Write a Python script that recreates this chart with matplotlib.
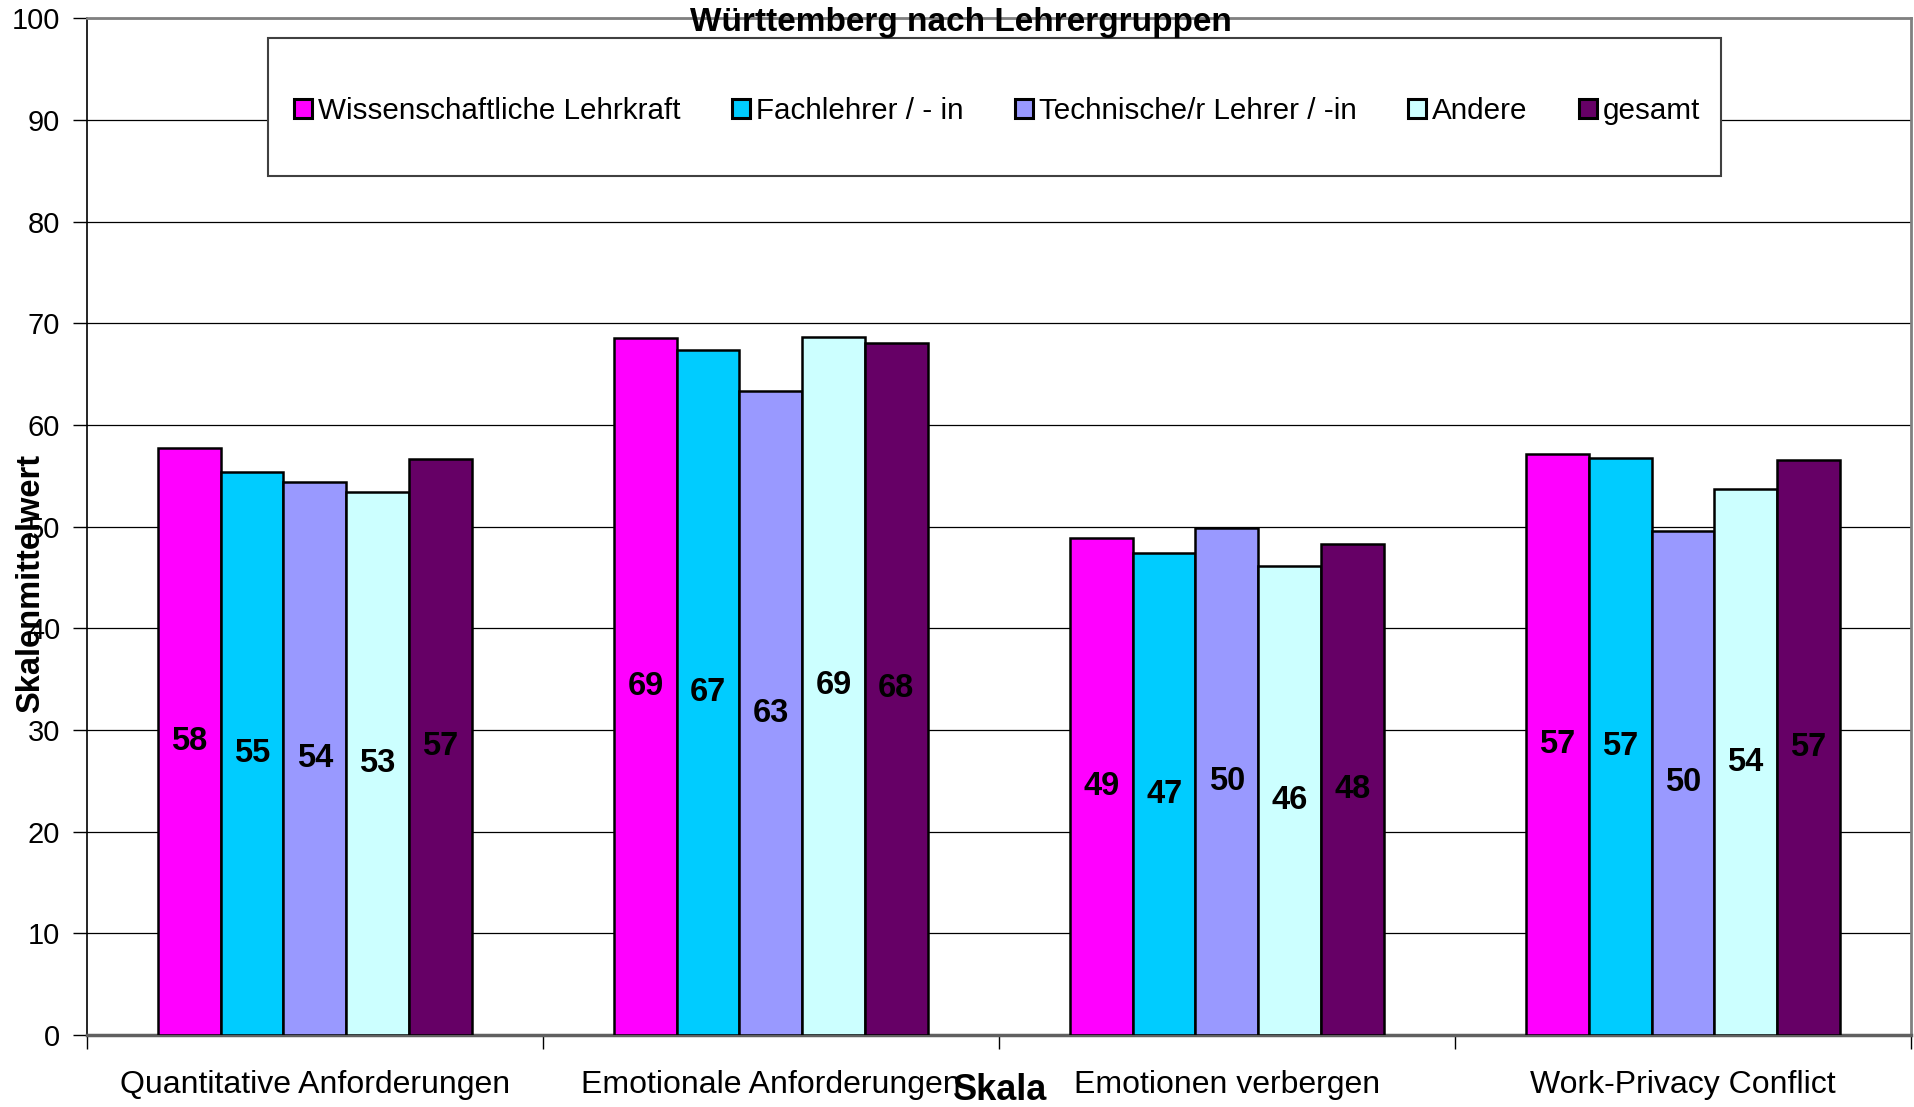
import matplotlib
matplotlib.use("Agg")
import matplotlib.pyplot as plt
import numpy as np
from matplotlib.patches import Rectangle

plt.rcParams['font.family'] = ['Liberation Sans', 'DejaVu Sans']

# Skalen (Kategorien) und Lehrergruppen
categories = ["Quantitative Anforderungen", "Emotionale Anforderungen",
              "Emotionen verbergen", "Work-Privacy Conflict"]
groups = ["Wissenschaftliche Lehrkraft", "Fachlehrer / - in",
          "Technische/r Lehrer / -in", "Andere", "gesamt"]

# Skalenmittelwerte je Gruppe
wissenschaftlich = [57.7, 68.6, 48.9, 57.1]
fachlehrer = [55.4, 67.4, 47.4, 56.8]
technisch = [54.4, 63.3, 49.9, 49.6]
andere = [53.4, 68.7, 46.1, 53.7]
gesamt = [56.7, 68.1, 48.3, 56.6]

colors = ["#FF00FF", "#00CCFF", "#9999FF", "#CCFFFF", "#660066"]

fig = plt.figure(figsize=(19.14, 11.07), dpi=100)
ax = fig.add_axes([0.0453, 0.065, 0.9531, 0.9185])

x = np.arange(len(categories))
bar_w = 0.1375
series = [wissenschaftlich, fachlehrer, technisch, andere, gesamt]
for i, (vals, name, col) in enumerate(zip(series, groups, colors)):
    bars = ax.bar(x + (i - 2) * bar_w, vals, bar_w, color=col, edgecolor="black",
                  linewidth=1.8, label=name, zorder=3)
    ax.bar_label(bars, fmt="%.0f", label_type="center", fontsize=23.5,
                 fontweight="bold", color="black", zorder=4)

ax.set_xlim(-0.5, len(categories) - 0.5)
ax.set_ylim(0, 100)
ax.set_yticks(np.arange(0, 101, 10))
ax.yaxis.grid(True, color="black", linewidth=0.9, zorder=0)
ax.set_axisbelow(True)

# Striche an den Kategoriegrenzen, Beschriftung in der Mitte
ax.set_xticks(np.arange(-0.5, len(categories), 1.0))
ax.set_xticklabels([])
ax.set_xticks(x, minor=True)
ax.set_xticklabels(categories, minor=True, fontsize=23)
ax.tick_params(axis="x", which="major", length=10, width=1, direction="out")
ax.tick_params(axis="x", which="minor", length=0, pad=25)
ax.tick_params(axis="y", length=10, width=1, pad=9, labelsize=21)

ax.spines["left"].set_color("black")
ax.spines["left"].set_linewidth(1.2)
ax.spines["top"].set_color("#808080")
ax.spines["top"].set_linewidth(2)
ax.spines["right"].set_color("#808080")
ax.spines["right"].set_linewidth(2)
ax.spines["bottom"].set_color("#606060")
ax.spines["bottom"].set_linewidth(2.5)

# Legendenkasten
fig.patches.append(Rectangle((268 / 1914, 1 - 176 / 1107), (1721 - 268) / 1914,
                             (176 - 38) / 1107, transform=fig.transFigure,
                             facecolor="white", edgecolor="#404040", linewidth=1.5,
                             zorder=5))
leg = fig.legend(loc="center", bbox_to_anchor=(294 / 1914, 1 - 144 / 1107,
                                               (1700 - 294) / 1914, 66 / 1107),
                 mode="expand", ncol=5, frameon=False, fontsize=21.3,
                 handlelength=0.6, handleheight=0.6, handletextpad=0.2,
                 borderaxespad=0, borderpad=0)
leg.set_zorder(6)
for h in leg.legend_handles:
    h.set_linewidth(2.2)

fig.text(0.502, 1 - 23 / 1107, "Württemberg nach Lehrergruppen", ha="center",
         va="center", fontsize=24, fontweight="bold", zorder=7)
fig.text(31 / 1914, 0.473, "Skalenmittelwert", rotation=90, ha="center",
         va="center", fontsize=23.5, fontweight="bold")
fig.text(1000 / 1914, 1 - 1090 / 1107, "Skala", ha="center", va="center",
         fontsize=26, fontweight="bold")

fig.savefig("out.png", dpi=100)
